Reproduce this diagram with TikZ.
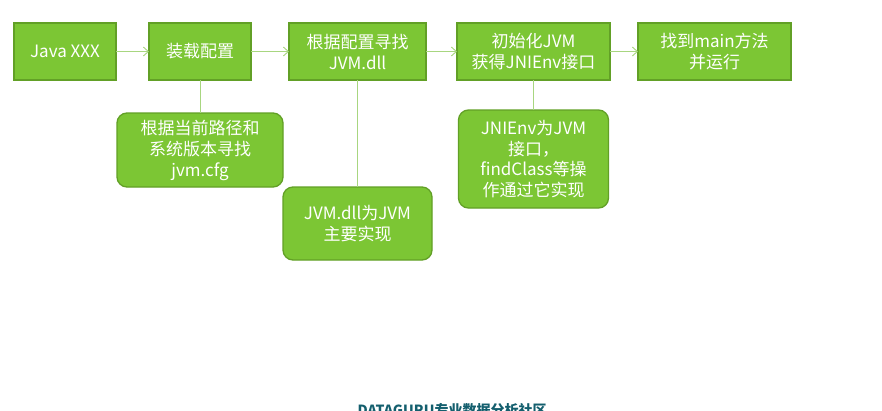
\documentclass[tikz,border=0pt]{standalone}
\usepackage{fontspec}
\setmainfont{Noto Sans CJK SC}
\usepackage{tikz}
\usetikzlibrary{arrows.meta, positioning, shapes}
\definecolor{boxgreen}{RGB}{124,198,52}
\definecolor{boxedge}{RGB}{98,160,38}
\definecolor{linkgreen}{RGB}{168,214,128}
\definecolor{wmteal}{RGB}{20,95,110}
\tikzstyle{arrow} = [line width=0.9pt, draw=linkgreen, ->, >={Straight Barb[length=5pt,width=9pt]}]
\tikzstyle{link} = [line width=0.9pt, draw=linkgreen]
\tikzstyle{stepbox} = [rectangle, minimum height=57pt, inner sep=2pt, outer sep=0pt, text centered, align=center, draw=boxedge, line width=1.3pt, fill=boxgreen, text=white, font=\fontsize{17}{21}\selectfont]
\tikzstyle{notebox} = [rectangle, rounded corners=10pt, inner sep=2pt, outer sep=0pt, text centered, align=center, draw=boxedge, line width=1.3pt, fill=boxgreen, text=white, font=\fontsize{17}{21}\selectfont]

\begin{document}
\begin{tikzpicture}[x=1pt, y=1pt]
    \useasboundingbox (0,0) rectangle (882,-410);
    \fill[white] (0,0) rectangle (882,-410);

    % Hauptablauf
    \node (java) [stepbox, minimum width=102pt] at (65,-51.5) {Java XXX};
    \node (load) [stepbox, minimum width=102pt, right=33pt of java] {装载配置};
    \node (find) [stepbox, minimum width=137pt, right=38pt of load] {根据配置寻找\\JVM.dll};
    \node (init) [stepbox, minimum width=153pt, right=31pt of find] {初始化JVM\\获得JNIEnv接口};
    \node (main) [stepbox, minimum width=153pt, right=28pt of init] {找到main方法\\并运行};

    % Erlaeuterungen
    \node (cfg) [notebox, minimum width=166pt, minimum height=74pt, below=33pt of load] {根据当前路径和\\系统版本寻找\\jvm.cfg};
    \node (dll) [notebox, minimum width=149pt, minimum height=73pt, below=107pt of find] {JVM.dll为JVM\\主要实现};
    \node (jni) [notebox, minimum width=150pt, minimum height=98pt, below=30pt of init, font=\fontsize{17}{20.5}\selectfont] {JNIEnv为JVM\\接口，\\findClass等操\\作通过它实现};

    % Pfeile
    \draw [arrow] (java) -- (load);
    \draw [arrow] (load) -- (find);
    \draw [arrow] (find) -- (init);
    \draw [arrow] (init) -- (main);
    \draw [link] (load.south) -- (cfg.north);
    \draw [link] (find.south) -- (dll.north);
    \draw [link] (init.south) -- (jni.north);

    % Wasserzeichen
    \node (wm) [anchor=north, inner sep=0pt, text=wmteal, font=\fontsize{14}{16}\selectfont\bfseries] at (452,-403) {DATAGURU专业数据分析社区};
\end{tikzpicture}
\end{document}
